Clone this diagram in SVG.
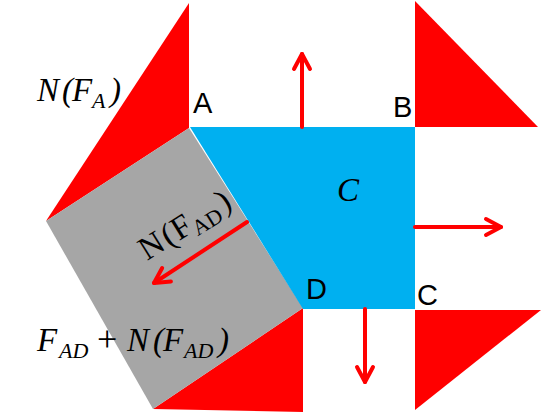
<svg xmlns="http://www.w3.org/2000/svg" width="542" height="412" viewBox="0 0 542 412">
<defs>
<style>
.red{fill:#FF0000;}
.blue{fill:#00B0F0;}
.gray{fill:#A6A6A6;}
.lbl{font-family:"Liberation Sans",Arial,sans-serif;font-size:29px;fill:#000;}
.math{font-family:"Liberation Serif","Times New Roman",serif;font-size:33px;font-style:italic;fill:#000;}
.sub{font-size:22px;}
.up{font-style:normal;}
.arrow{stroke:#FF0000;stroke-width:4;fill:none;stroke-linecap:round;marker-end:url(#head);}
</style>
<marker id="head" markerUnits="userSpaceOnUse" viewBox="-20 -12 24 24" refX="0" refY="0" markerWidth="24" markerHeight="24" orient="auto" overflow="visible">
<path d="M-15,-8 L0,0 L-15,8" fill="none" stroke="#FF0000" stroke-width="4" stroke-linecap="round" stroke-linejoin="round"/>
</marker>
</defs>
<rect width="542" height="412" fill="#FFFFFF"/>
<g id="tri-A"><polygon class="red" points="189,3 189,128 46,221"/></g>
<g id="tri-B"><polygon class="red" points="415,1 415,127 538,127"/></g>
<g id="tri-C"><polygon class="red" points="415,310 541,310 415,410"/></g>
<g id="tri-D"><polygon class="red" points="303,308 303,412 153,409"/></g>
<g id="face-AD"><polygon class="gray" points="189,128 303,308 153,409 46,221"/></g>
<g id="face-C"><polygon class="blue" points="190,127 415,127 415,309 303,309"/>
<text class="math" x="337" y="201" font-size="33">C</text></g>
<g id="connectors">
<line class="arrow" x1="302" y1="127" x2="302" y2="54"/>
<line class="arrow" x1="415" y1="227" x2="501" y2="227"/>
<line class="arrow" x1="365" y1="309" x2="365" y2="382"/>
<line class="arrow" x1="247" y1="222" x2="154" y2="283"/>
</g>
<g id="labels">
<text class="lbl" x="193" y="113">A</text>
<text class="lbl" x="393" y="117">B</text>
<text class="lbl" x="306" y="299">D</text>
<text class="lbl" x="417" y="305">C</text>
<text class="math" x="37" y="101">N<tspan x="62">(</tspan><tspan x="72">F</tspan><tspan class="sub" x="92" y="108">A</tspan><tspan x="110" y="101">)</tspan></text>
<text class="math" x="37" y="351">F<tspan class="sub" x="59" y="358">AD</tspan><tspan class="up" x="97" y="351" font-size="36">+</tspan><tspan x="127" y="351">N</tspan><tspan x="153">(</tspan><tspan x="163">F</tspan><tspan class="sub" x="184" y="358">AD</tspan><tspan x="218" y="351">)</tspan></text>
<text class="math up" font-size="28" transform="translate(147,261) rotate(-32)">N<tspan dx="2">(</tspan><tspan dx="1">F</tspan><tspan class="sub" font-size="20" dy="6">AD</tspan><tspan dx="3" dy="-6">)</tspan></text>
</g>
</svg>
